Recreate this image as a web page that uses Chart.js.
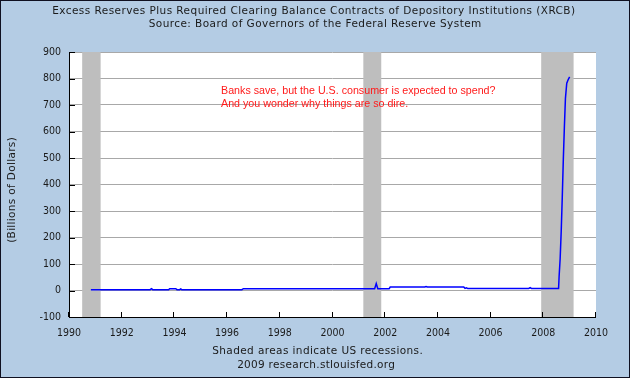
<!DOCTYPE html>
<html><head><meta charset="utf-8">
<script src="https://cdn.jsdelivr.net/npm/chart.js@4"></script>
<style>
html,body{margin:0;padding:0;background:#B4CCE4;overflow:hidden}
canvas{display:block}
</style></head>
<body>
<canvas id="c" width="630" height="378"></canvas>
<script>
// ---- data ----
const dates = [1990.83,1993.08,1993.13,1993.18,1993.78,1993.82,1994.05,1994.10,1994.20,1994.24,1994.28,1996.56,1996.62,2001.60,2001.66,2001.72,2002.15,2002.19,2003.50,2003.55,2003.60,2004.98,2005.03,2005.08,2005.13,2007.45,2007.50,2007.55,2008.58,2008.60,2008.64,2008.68,2008.72,2008.76,2008.80,2008.84,2008.89,2008.95,2009.00];
const values = [3,3,7,3,3,7,7,3,3,6,3,3,7,7,26,7,7,13,13,15,13,13,8,10,8,8,11,8,8,53,121,224,352,495,617,725,782,797,806];
const recessionStarts = [1990.5, 2001.17, 2007.92];
const recessionEnds = [1991.2, 2001.85, 2009.15];
const xTickValues = [1990,1992,1994,1996,1998,2000,2002,2004,2006,2008,2010];
const yTickValues = [-100,0,100,200,300,400,500,600,700,800,900];
const titleLines = ['Excess Reserves Plus Required Clearing Balance Contracts of Depository Institutions (XRCB)','Source: Board of Governors of the Federal Reserve System'];
const footerLines = ['Shaded areas indicate US recessions.','2009 research.stlouisfed.org'];
const yAxisTitle = '(Billions of Dollars)';
const noteLines = ['Banks save, but the U.S. consumer is expected to spend?','And you wonder why things are so dire.'];
const noteAnchor = {x: 1995.77, y: 752};

const FONT = "'DejaVu Sans',sans-serif";
const TICKFONT = "'DejaVu Sans Condensed','DejaVu Sans',sans-serif";
const TXT = '#1a1a1a';

// draw text centred at (x,y), spread to a given width
function fitText(c, t, x, y, w) {
  c.letterSpacing = '0px';
  const m = c.measureText(t).width;
  const ls = (w - m) / t.length;
  c.letterSpacing = ls.toFixed(2) + 'px';
  c.textAlign = 'left';
  c.fillText(t, x - w/2 + ls/2, y);
  c.letterSpacing = '0px';
}

const decor = {
  id: 'decor',
  beforeDraw(chart) {
    const c = chart.ctx;
    c.save();
    c.fillStyle = '#B4CCE4';
    c.fillRect(0,0,chart.width,chart.height);
    const a = chart.chartArea;
    c.fillStyle = '#FFFFFF';
    c.fillRect(a.left, a.top, a.right-a.left, a.bottom-a.top);
    c.restore();
  },
  beforeDatasetsDraw(chart) {
    const c = chart.ctx, a = chart.chartArea, xs = chart.scales.x;
    c.save();
    c.fillStyle = '#BEBEBE';
    recessionStarts.forEach((s,i) => {
      const x0 = xs.getPixelForValue(s), x1 = xs.getPixelForValue(recessionEnds[i]);
      c.fillRect(x0, a.top, x1-x0, a.bottom-a.top);
    });
    c.restore();
  },
  afterDraw(chart) {
    const c = chart.ctx, a = chart.chartArea, xs = chart.scales.x, ys = chart.scales.y;
    c.save();
    // axes
    c.strokeStyle = '#000'; c.lineWidth = 1;
    c.beginPath();
    c.moveTo(Math.round(a.left)+0.5, a.top);
    c.lineTo(Math.round(a.left)+0.5, Math.round(a.bottom)+0.5);
    c.lineTo(a.right, Math.round(a.bottom)+0.5);
    c.stroke();
    c.beginPath();
    yTickValues.forEach(v => {
      const y = Math.round(ys.getPixelForValue(v))+0.5;
      c.moveTo(a.left, y); c.lineTo(a.left+6, y);
    });
    xTickValues.forEach(v => {
      const x = Math.round(xs.getPixelForValue(v))-0.5;
      c.moveTo(x, a.bottom); c.lineTo(x, a.bottom-5);
    });
    c.stroke();
    // note
    c.fillStyle = '#FF1A1A';
    c.font = "10.7px 'Liberation Sans',Arial,sans-serif";
    c.textAlign = 'left'; c.textBaseline = 'middle';
    const nx = xs.getPixelForValue(noteAnchor.x), ny = ys.getPixelForValue(noteAnchor.y);
    noteLines.forEach((t,i) => c.fillText(t, nx, ny + i*13.3));
    // titles
    c.fillStyle = TXT;
    c.font = '10.5px ' + FONT;
    fitText(c, titleLines[0], 313.5, 11.7, 523);
    fitText(c, titleLines[1], 315, 24.3, 333);
    fitText(c, footerLines[0], 317.5, 351, 211);
    fitText(c, footerLines[1], 316, 365.7, 158);
    // y title
    c.translate(12.5, 190);
    c.rotate(-Math.PI/2);
    fitText(c, yAxisTitle, 0, 0, 106);
    c.restore();
    // frame
    c.save();
    c.strokeStyle = '#101020'; c.lineWidth = 1;
    c.strokeRect(0.5,0.5,chart.width-1,chart.height-1);
    c.restore();
  }
};

new Chart(document.getElementById('c'), {
  type: 'line',
  data: { datasets: [{
    data: dates.map((d,i) => ({x: d, y: values[i]})),
    borderColor: '#0000FF', borderWidth: 1.5, pointRadius: 0, tension: 0, fill: false
  }]},
  options: {
    responsive: false, animation: false, devicePixelRatio: 1,
    layout: { padding: { top: 52, right: 34, left: 0, bottom: 0 } },
    plugins: { legend: { display: false }, tooltip: { enabled: false } },
    scales: {
      x: {
        type: 'linear', min: 1990, max: 2010,
        afterBuildTicks: s => { s.ticks = xTickValues.map(v => ({value: v})); },
        ticks: { color: TXT, font: { family: TICKFONT, size: 10.5 }, padding: 2, maxRotation: 0, callback: v => String(v) },
        grid: { display: false },
        border: { display: false },
        afterFit: s => { s.height = 61; }
      },
      y: {
        min: -100, max: 900,
        afterBuildTicks: s => { s.ticks = yTickValues.map(v => ({value: v})); },
        ticks: { color: TXT, font: { family: TICKFONT, size: 10.5 }, padding: 8 },
        grid: { color: '#A8A8A8', drawTicks: false, lineWidth: 1 },
        border: { display: false },
        afterFit: s => { s.width = 69; }
      }
    }
  },
  plugins: [decor]
});
</script>
</body></html>
